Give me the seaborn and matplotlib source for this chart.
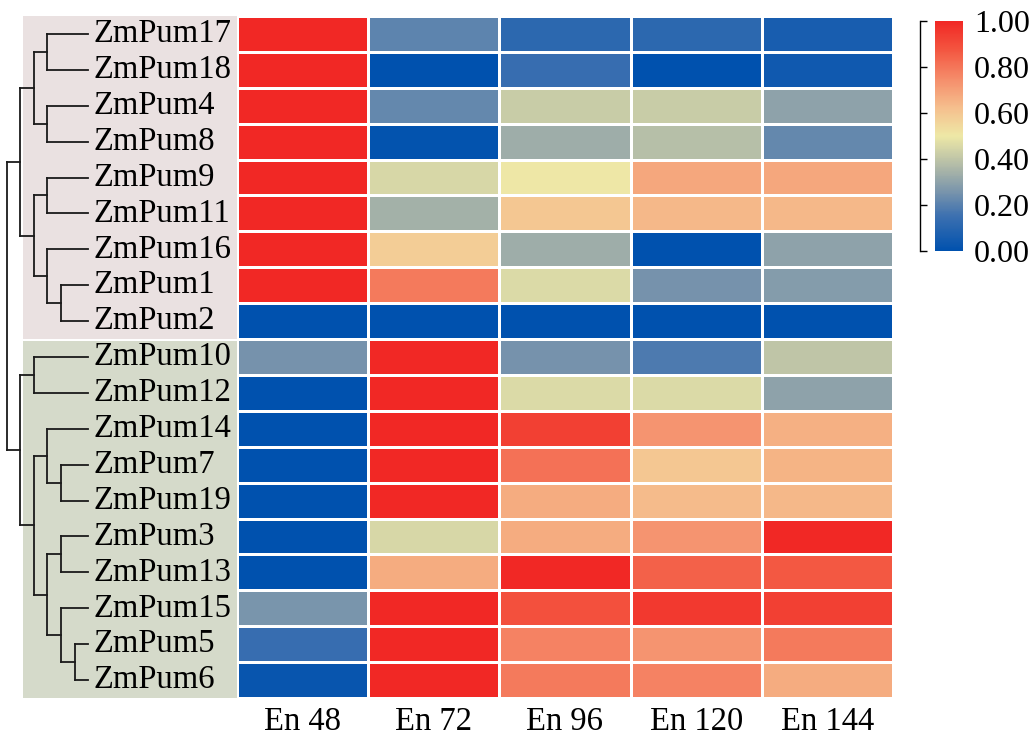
import numpy as np
import pandas as pd
import matplotlib
matplotlib.use("Agg")
import matplotlib.pyplot as plt
from matplotlib.colors import LinearSegmentedColormap
import seaborn as sns

# Data
genes = ["ZmPum17", "ZmPum18", "ZmPum4", "ZmPum8", "ZmPum9", "ZmPum11", "ZmPum16",
         "ZmPum1", "ZmPum2", "ZmPum10", "ZmPum12", "ZmPum14", "ZmPum7", "ZmPum19",
         "ZmPum3", "ZmPum13", "ZmPum15", "ZmPum5", "ZmPum6"]
stages = ["En 48", "En 72", "En 96", "En 120", "En 144"]
en48 = [1.00, 1.00, 1.00, 1.00, 1.00, 1.00, 1.00, 1.00, 0.00, 0.25,
        0.00, 0.00, 0.00, 0.00, 0.00, 0.00, 0.26, 0.14, 0.02]
en72 = [0.21, 0.00, 0.22, 0.01, 0.45, 0.34, 0.58, 0.79, 0.00, 1.00,
        1.00, 1.00, 1.00, 1.00, 0.45, 0.67, 1.00, 1.00, 1.00]
en96 = [0.11, 0.14, 0.42, 0.33, 0.50, 0.60, 0.33, 0.46, 0.00, 0.25,
        0.46, 0.93, 0.81, 0.67, 0.67, 1.00, 0.89, 0.77, 0.79]
en120 = [0.11, 0.00, 0.42, 0.38, 0.68, 0.64, 0.00, 0.25, 0.00, 0.18,
         0.46, 0.73, 0.60, 0.63, 0.73, 0.85, 0.95, 0.73, 0.77]
en144 = [0.06, 0.04, 0.30, 0.22, 0.68, 0.64, 0.30, 0.28, 0.00, 0.40,
         0.30, 0.66, 0.65, 0.64, 1.00, 0.87, 0.93, 0.79, 0.67]

# Row clustering tree: (left, right, merge level)
top_group = ((("ZmPum17", "ZmPum18", 3), ("ZmPum4", "ZmPum8", 3), 4),
             (("ZmPum9", "ZmPum11", 3), ("ZmPum16", ("ZmPum1", "ZmPum2", 2), 3), 4), 5)
bottom_group = (("ZmPum10", "ZmPum12", 4),
                (("ZmPum14", ("ZmPum7", "ZmPum19", 2), 3),
                 (("ZmPum3", "ZmPum13", 2), ("ZmPum15", ("ZmPum5", "ZmPum6", 1), 2), 3), 4), 5)
tree = (top_group, bottom_group, 6)
n_top = 9

df = pd.DataFrame({s: v for s, v in zip(stages, [en48, en72, en96, en120, en144])}, index=genes)

cmap = LinearSegmentedColormap.from_list("pum", [
    (0.0, "#0051AE"), (0.15, "#3C70B0"), (0.25, "#7592AC"), (0.35, "#A8B4A8"),
    (0.5, "#EEE8A6"), (0.62, "#F5C08E"), (0.75, "#F58C6A"), (0.88, "#F3543F"),
    (1.0, "#F12825")])

plt.rcParams["font.family"] = ["Liberation Serif", "DejaVu Serif"]
W, H = 1032, 739
fig = plt.figure(figsize=(W / 100, H / 100), dpi=100)

hm_left, hm_right, hm_top, hm_bottom = 237, 893, 16, 698
ax_d = fig.add_axes([0, 1 - hm_bottom / H, hm_left / W, (hm_bottom - hm_top) / H])
ax = fig.add_axes([hm_left / W, 1 - hm_bottom / H, (hm_right - hm_left) / W, (hm_bottom - hm_top) / H])
cax = fig.add_axes([935 / W, 1 - 251 / H, 28 / W, 230 / H])

sns.heatmap(df, ax=ax, cmap=cmap, vmin=0, vmax=1, linewidths=1.0, linecolor="white",
            cbar_ax=cax, cbar_kws={"ticks": [0, 0.2, 0.4, 0.6, 0.8, 1.0]})
ax.tick_params(axis="y", length=0, pad=103, labelsize=23.5)
ax.tick_params(axis="x", length=0, pad=6, labelsize=23.5)
for t in ax.get_yticklabels():
    t.set_horizontalalignment("left")
    t.set_rotation(0)
for t in ax.get_xticklabels():
    t.set_rotation(0)

# colorbar
cbar = ax.collections[0].colorbar
cbar.outline.set_visible(False)
cbar.ax.tick_params(length=0, labelsize=23, pad=8)
cbar.ax.set_yticklabels([f"{v:.2f}" for v in [0, 0.2, 0.4, 0.6, 0.8, 1.0]])
sec = cbar.ax.secondary_yaxis(-0.54)
sec.set_yticks([0, 0.2, 0.4, 0.6, 0.8, 1.0])
sec.tick_params(direction="in", length=5, width=1, labelleft=False)
sec.spines["left"].set_linewidth(1)

# dendrogram
leaf_x = 88
step = 13.5
ax_d.set_xlim(leaf_x / step, -(hm_left - leaf_x) / step)
ax_d.set_ylim(len(genes), 0)
ax_d.axis("off")
x_start = (23 / hm_left)
ax_d.axhspan(0, n_top, xmin=x_start, xmax=1, color="#EAE1E1", lw=0)
ax_d.axhspan(n_top + 0.05, len(genes), xmin=x_start, xmax=1, color="#D5DACA", lw=0)


def draw(node):
    if isinstance(node, str):
        return genes.index(node) + 0.5, 0
    y1, h1 = draw(node[0])
    y2, h2 = draw(node[1])
    h = node[2]
    ax_d.plot([h1, h], [y1, y1], color="#1a1a1a", lw=1.3)
    ax_d.plot([h2, h], [y2, y2], color="#1a1a1a", lw=1.3)
    ax_d.plot([h, h], [y1, y2], color="#1a1a1a", lw=1.3)
    return (y1 + y2) / 2, h


draw(tree)

fig.savefig("out.png", dpi=100)
